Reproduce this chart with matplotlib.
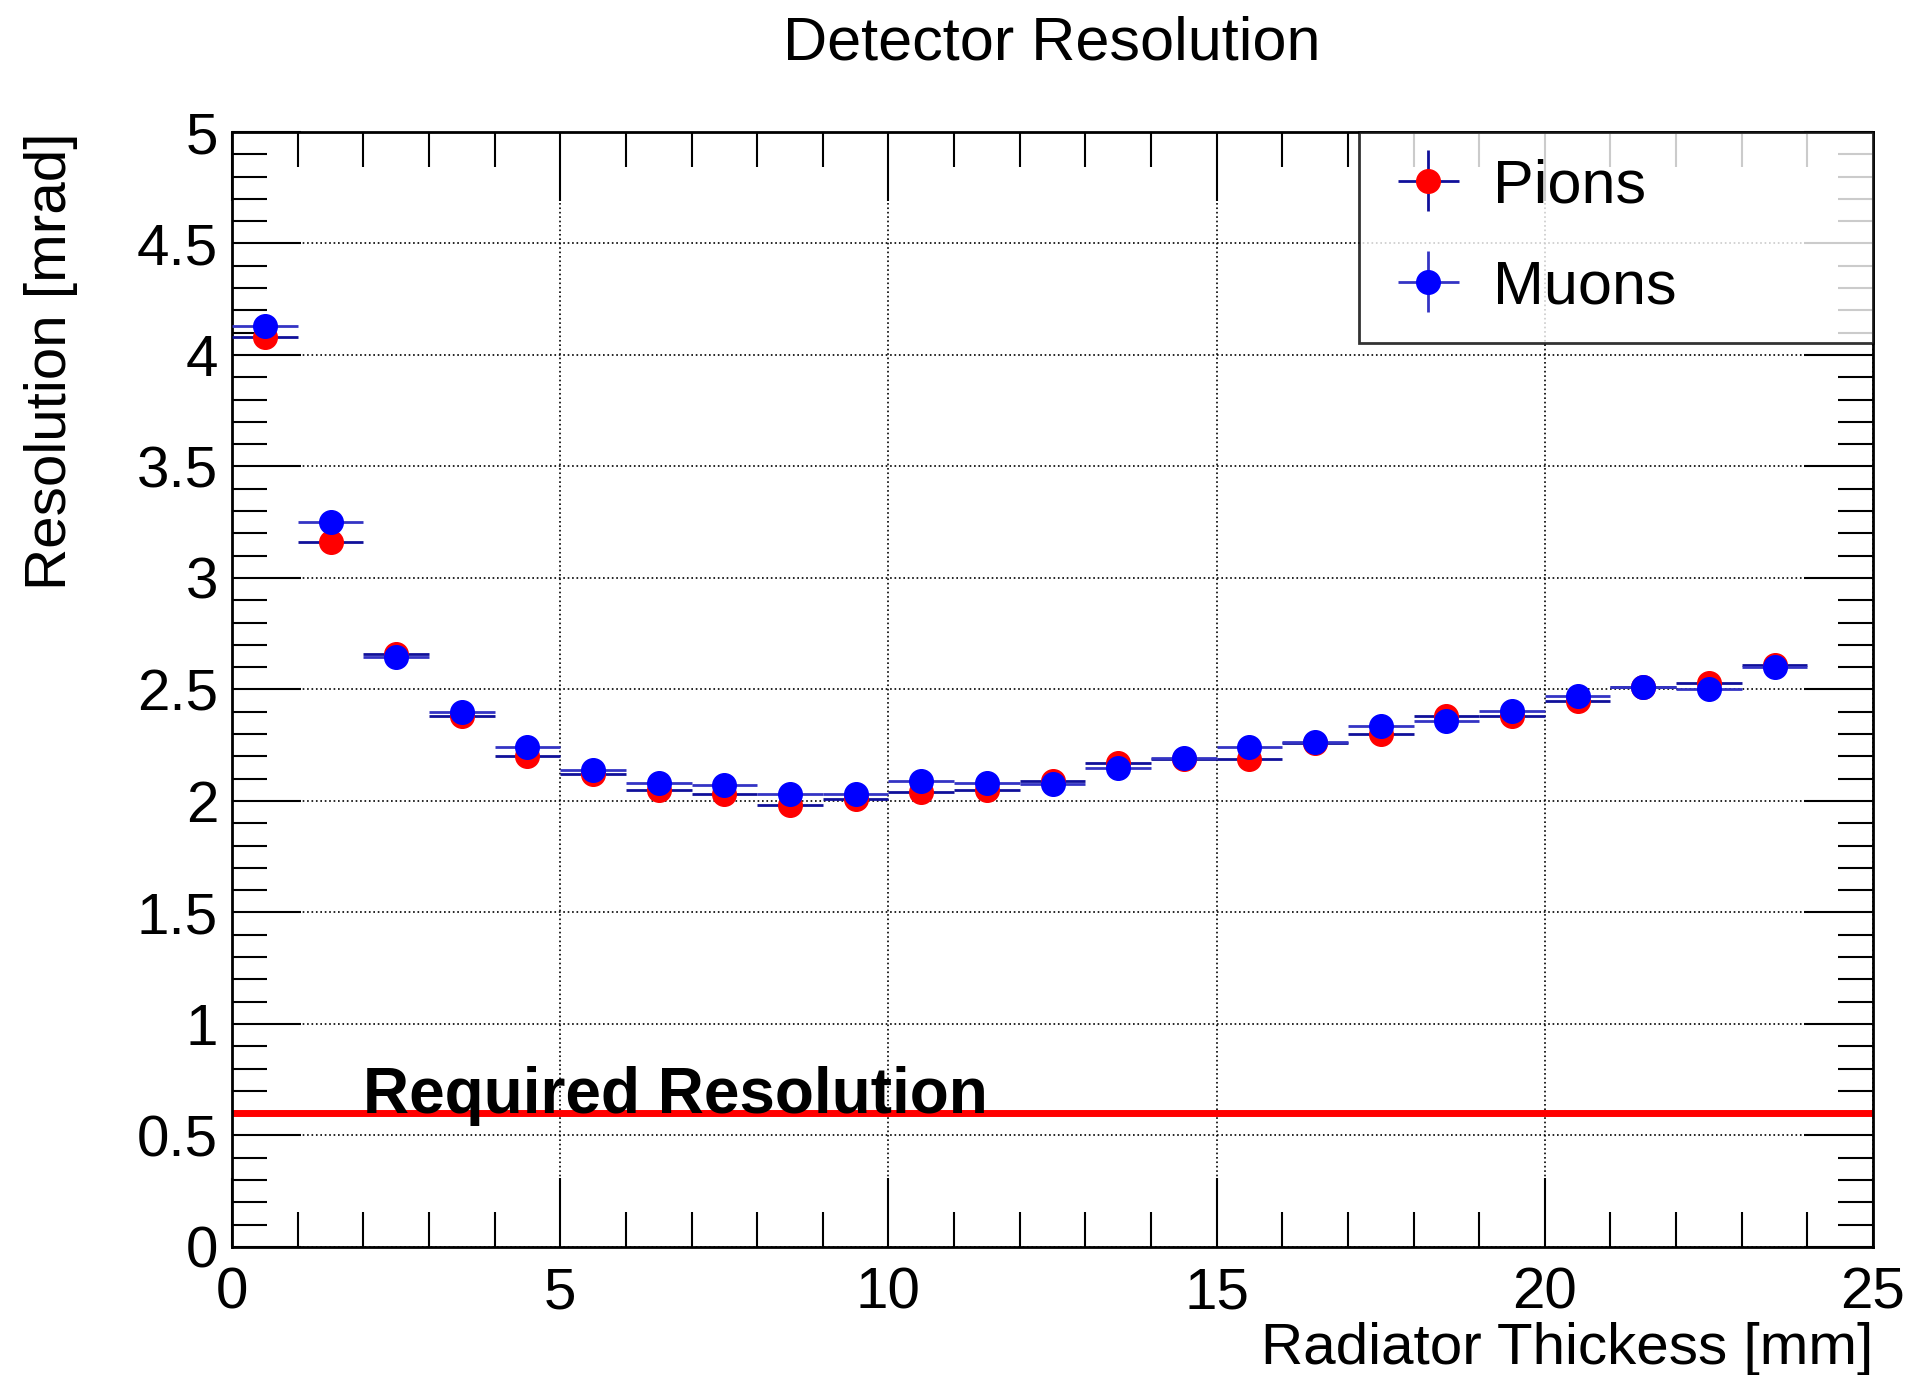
import matplotlib
matplotlib.use("Agg")
import matplotlib.pyplot as plt
from matplotlib.ticker import MultipleLocator, FuncFormatter

plt.rcParams['font.family'] = ['Liberation Sans', 'DejaVu Sans']

# bin centres of radiator thickness [mm]
thickness = [0.5, 1.5, 2.5, 3.5, 4.5, 5.5, 6.5, 7.5, 8.5, 9.5, 10.5, 11.5,
             12.5, 13.5, 14.5, 15.5, 16.5, 17.5, 18.5, 19.5, 20.5, 21.5, 22.5, 23.5]
bin_half = 0.5

pions = [4.08, 3.16, 2.66, 2.38, 2.20, 2.12, 2.05, 2.03, 1.98, 2.01, 2.04, 2.05,
         2.09, 2.17, 2.19, 2.19, 2.26, 2.30, 2.38, 2.38, 2.45, 2.51, 2.53, 2.61]
muons = [4.13, 3.25, 2.645, 2.40, 2.24, 2.14, 2.08, 2.07, 2.03, 2.03, 2.09, 2.08,
         2.075, 2.15, 2.195, 2.24, 2.265, 2.335, 2.36, 2.405, 2.47, 2.51, 2.50, 2.60]
stat_err = 0.01

required = 0.6

fig = plt.figure(figsize=(19.13, 13.75), dpi=100)
ax = fig.add_axes([0.1213, 0.0931, 0.8578, 0.8109])

ax.errorbar(thickness, pions, xerr=bin_half, yerr=stat_err, fmt='o', color='#ff0000',
            ecolor='#10109a', elinewidth=2, markersize=17, label='Pions', zorder=3)
ax.errorbar(thickness, muons, xerr=bin_half, yerr=stat_err, fmt='o', color='#0000ff',
            ecolor='#3434c4', elinewidth=2, markersize=17, label='Muons', zorder=4)

ax.axhline(required, color='#ff0000', lw=5, zorder=2)
ax.text(2.0, required, 'Required Resolution', fontsize=46, fontweight='bold',
        ha='left', va='baseline', zorder=5)

ax.set_xlim(0, 25)
ax.set_ylim(0, 5)
ax.xaxis.set_major_locator(MultipleLocator(5))
ax.xaxis.set_minor_locator(MultipleLocator(1))
ax.yaxis.set_major_locator(MultipleLocator(0.5))
ax.yaxis.set_minor_locator(MultipleLocator(0.1))
ax.xaxis.set_major_formatter(FuncFormatter(lambda v, p: f'{v:g}'))
ax.yaxis.set_major_formatter(FuncFormatter(lambda v, p: f'{v:g}'))

ax.tick_params(which='both', direction='in', top=True, right=True, labelsize=42, color='black')
ax.tick_params(axis='x', which='major', length=50, width=1.5, pad=14)
ax.tick_params(axis='x', which='minor', length=25, width=1.5)
ax.tick_params(axis='y', which='major', length=50, width=1.5, pad=10)
ax.tick_params(axis='y', which='minor', length=25, width=1.5)

ax.grid(True, which='major', ls=':', color='black', lw=1.2)
for s in ax.spines.values():
    s.set_linewidth(2)

ax.set_xlabel('Radiator Thickess [mm]', fontsize=42, loc='right')
ax.xaxis.set_label_coords(1.0, -0.067)
ax.set_ylabel('Resolution [mrad]', fontsize=42, loc='top')
ax.yaxis.set_label_coords(-0.094, 1.0)

fig.text(0.5498, 1 - 16 / 1375, 'Detector Resolution', fontsize=44, ha='center', va='top')

leg = ax.legend(loc='upper left', bbox_to_anchor=(0.687, 0.0, 0.313, 1.0), mode='expand',
                fontsize=44, frameon=True, fancybox=False, borderpad=0.43,
                labelspacing=0.72, handlelength=1.4, handletextpad=0.36, borderaxespad=0)
leg.get_frame().set_edgecolor('black')
leg.get_frame().set_linewidth(2)

fig.savefig('out.png', dpi=100)
